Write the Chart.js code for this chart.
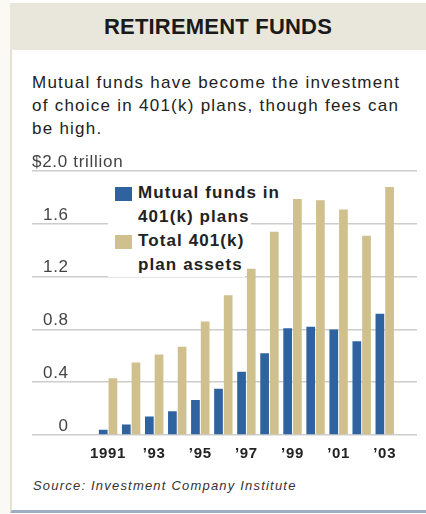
<!DOCTYPE html>
<html>
<head>
<meta charset="utf-8">
<script src="https://cdn.jsdelivr.net/npm/chart.js@4.4.1/dist/chart.umd.min.js"></script>
<style>
  html, body { margin: 0; padding: 0; background: #fff; }
  body { width: 426px; height: 514px; position: relative; overflow: hidden;
         font-family: "Liberation Sans", Arial, Helvetica, sans-serif; color: #222; }
  #frame { position: absolute; left: 10px; top: 3px; width: 416px; height: 510px;
           border-left: 2px solid #e4e1d3; border-bottom: 3px solid #9cadc5; box-sizing: border-box; }
  #leftpad { position: absolute; left: 0; top: 0; width: 10px; height: 514px; background: #faf9f4; }
  #title { position: absolute; left: 10px; top: 3px; width: 416px; height: 47px; background: #e9e7dc;
           text-align: center; font-weight: bold; font-size: 22px; line-height: 47px; color: #1a1a1a;
           letter-spacing: 0.2px; }
  #subtitle { position: absolute; left: 32px; top: 71px; white-space: nowrap; font-size: 17px; line-height: 23px;
              letter-spacing: 1.25px; color: #222; }
  #chartbox { position: absolute; left: 0; top: 150px; width: 426px; height: 324px; }
  #legend { position: absolute; left: 108px; top: 181px; font-weight: bold; font-size: 17px;
            letter-spacing: 1.1px; color: #222; }
  .row { height: 24px; line-height: 24px; background: #fff; padding-left: 30px; padding-right: 2px;
         width: fit-content; position: relative; white-space: nowrap; }
  .sw { position: absolute; left: 7px; top: 6px; width: 17px; height: 14px; }
  #source { position: absolute; left: 33px; top: 478px; font-style: italic; font-size: 13px;
            letter-spacing: 1.2px; color: #333; }
</style>
</head>
<body>
<div id="leftpad"></div>
<div id="frame"></div>
<div id="title">RETIREMENT FUNDS</div>
<div id="subtitle">Mutual funds have become the investment<br>of choice in 401(k) plans, though fees can<br>be high.</div>
<div id="chartbox"><canvas id="c" width="426" height="324"></canvas></div>
<div id="legend"></div>
<div id="source">Source: Investment Company Institute</div>
<script>
// ---- data ----
const years = [1991, 1992, 1993, 1994, 1995, 1996, 1997, 1998, 1999, 2000, 2001, 2002, 2003];
const mutualFunds = [0.04, 0.08, 0.14, 0.18, 0.265, 0.35, 0.48, 0.62, 0.81, 0.82, 0.80, 0.71, 0.92];
const totalAssets = [0.43, 0.55, 0.61, 0.67, 0.86, 1.06, 1.26, 1.54, 1.79, 1.78, 1.71, 1.51, 1.88];
const seriesNames = [["Mutual funds in", "401(k) plans"], ["Total 401(k)", "plan assets"]];
const seriesColors = ["#2f63a0", "#cfc08e"];
const xTickYears = [1991, 1993, 1995, 1997, 1999, 2001, 2003];
const xTickLabels = ["1991", "\u201993", "\u201995", "\u201997", "\u201999", "\u201901", "\u201903"];
const yTickLabels = ["0", "0.4", "0.8", "1.2", "1.6", "$2.0 trillion"];

const FONT = '"Liberation Sans", Arial, Helvetica, sans-serif';

// legend (HTML)
const legend = document.getElementById('legend');
seriesNames.forEach((lines, i) => {
  lines.forEach((t, j) => {
    const r = document.createElement('div');
    r.className = 'row';
    r.textContent = t;
    if (j === 0) {
      const s = document.createElement('span');
      s.className = 'sw';
      s.style.background = seriesColors[i];
      r.appendChild(s);
    }
    legend.appendChild(r);
  });
});

const toXY = (arr) => arr.map((v, i) => ({ x: years[i], y: v }));

const spacing = {
  id: 'spacing',
  beforeLayout(c) { c.ctx.letterSpacing = '0.7px'; },
  beforeDraw(c) { c.ctx.letterSpacing = '0.7px'; }
};

const chart = new Chart(document.getElementById('c'), {
  type: 'bar',
  plugins: [spacing],
  data: {
    datasets: [
      { label: seriesNames[0].join(' '), data: toXY(mutualFunds), backgroundColor: seriesColors[0],
        categoryPercentage: 0.84, barPercentage: 0.9 },
      { label: seriesNames[1].join(' '), data: toXY(totalAssets), backgroundColor: seriesColors[1],
        categoryPercentage: 0.84, barPercentage: 0.9 }
    ]
  },
  options: {
    responsive: false,
    animation: false,
    layout: { padding: { left: 10, right: 9, top: 21, bottom: 1 } },
    plugins: { legend: { display: false }, tooltip: { enabled: false } },
    scales: {
      x: {
        type: 'linear',
        offset: false,
        min: 1987.7, max: 2004.4,
        grid: { display: false, drawTicks: false },
        border: { display: false },
        afterBuildTicks: (s) => { s.ticks = xTickYears.map(v => ({ value: v })); },
        ticks: {
          padding: 10,
          color: '#222',
          font: { family: FONT, size: 15, weight: 'bold' },
          callback: (v) => { const k = xTickYears.indexOf(v); return k >= 0 ? xTickLabels[k] : ''; }
        }
      },
      y: {
        position: 'left',
        weight: 2,
        min: 0, max: 2.0,
        grid: { color: '#cdcdcd', lineWidth: 1.5, drawTicks: false },
        border: { display: false },
        ticks: {
          stepSize: 0.4, mirror: true, crossAlign: 'far', padding: 11, labelOffset: -9,
          color: '#444', font: { family: FONT, size: 17 },
          callback: (v, i) => (i === yTickLabels.length - 1 ? '' : yTickLabels[i])
        }
      },
      y2: {
        position: 'left',
        weight: 0,
        min: 0, max: 2.0,
        grid: { display: false, drawTicks: false },
        border: { display: false },
        ticks: {
          stepSize: 0.4, mirror: true, crossAlign: 'near', padding: 0, labelOffset: -9,
          color: '#444', font: { family: FONT, size: 17 },
          callback: (v, i) => (i === yTickLabels.length - 1 ? yTickLabels[i] : '')
        }
      }
    }
  }
});
</script>
</body>
</html>
